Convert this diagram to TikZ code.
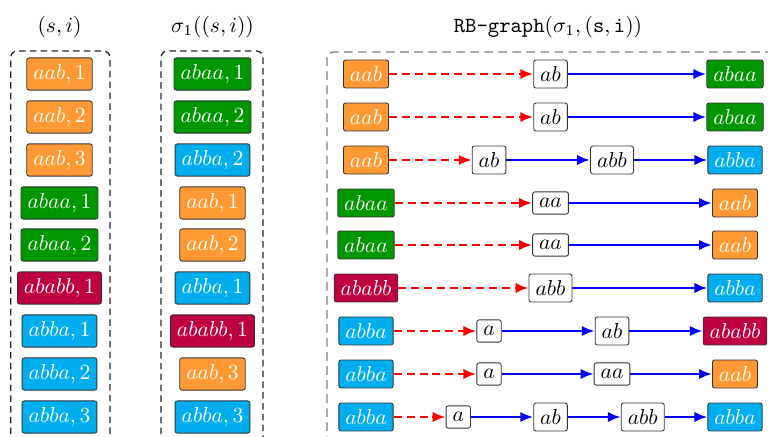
\documentclass[tikz,border=0pt]{standalone}
\usepackage{tikz}
\usetikzlibrary{arrows.meta}

\definecolor{aabcolor}{RGB}{255,153,51}
\definecolor{abaacolor}{RGB}{0,150,0}
\definecolor{abbacolor}{RGB}{0,174,239}
\definecolor{ababbcolor}{RGB}{190,0,64}

\begin{document}
\begin{tikzpicture}[x=0.463pt,y=-0.463pt,>={Latex[length=6pt,width=4.8pt]},
  box/.style={draw=black!80,rounded corners=1pt,inner sep=3pt},
  aab node/.style={box,fill=aabcolor,text=white},
  abaa node/.style={box,fill=abaacolor,text=white},
  abba node/.style={box,fill=abbacolor,text=white},
  ababb node/.style={box,fill=ababbcolor,text=white},
  mid node/.style={box,fill=white},
  red edge/.style={->,red,line width=1.3pt,dash pattern=on 3.7pt off 2.3pt},
  blue edge/.style={->,blue,line width=1.3pt},
  frame/.style={dash pattern=on 3pt off 2pt,rounded corners=3pt,line width=0.6pt}]
  \useasboundingbox (0,0) rectangle (768,437);
  \clip (0,0) rectangle (768,437);

  % titles
  \node (h1) at (59.5,27) {$(s,i)$};
  \node (h2) at (212.5,27) {$\sigma_1((s,i))$};
  \node (h3) at (548,27) {\texttt{RB-graph}$(\sigma_1,(\mathtt{s},\mathtt{i}))$};

  % frames
  \draw[frame,black!85] (10.7,445) -- (10.7,51) -- (110,51) -- (110,445);
  \draw[frame,black!85] (161,445) -- (161,51) -- (263,51) -- (263,445);
  \draw[frame,gray,dash pattern=on 4pt off 2.5pt] (327,445) -- (327,52) -- (800,52) -- (800,445);

  % (s,i)
  \node[aab node] (s1) at (59.5,74) {$aab,1$};
  \node[aab node] (s2) at (59.5,117) {$aab,2$};
  \node[aab node] (s3) at (59.5,160) {$aab,3$};
  \node[abaa node] (s4) at (59.5,203) {$abaa,1$};
  \node[abaa node] (s5) at (59.5,245) {$abaa,2$};
  \node[ababb node] (s6) at (59.5,288) {$ababb,1$};
  \node[abba node] (s7) at (59.5,331) {$abba,1$};
  \node[abba node] (s8) at (59.5,374) {$abba,2$};
  \node[abba node] (s9) at (59.5,417) {$abba,3$};

  % sigma_1((s,i))
  \node[abaa node] (t1) at (212.5,74) {$abaa,1$};
  \node[abaa node] (t2) at (212.5,117) {$abaa,2$};
  \node[abba node] (t3) at (212.5,160) {$abba,2$};
  \node[aab node] (t4) at (212.5,203) {$aab,1$};
  \node[aab node] (t5) at (212.5,245) {$aab,2$};
  \node[abba node] (t6) at (212.5,288) {$abba,1$};
  \node[ababb node] (t7) at (212.5,331) {$ababb,1$};
  \node[aab node] (t8) at (212.5,374) {$aab,3$};
  \node[abba node] (t9) at (212.5,417) {$abba,3$};

  % RB-graph
  \node[aab node] (l1) at (366,74) {$aab$};
  \node[mid node] (m1) at (550.5,74) {$ab$};
  \node[abaa node] (r1) at (735,74) {$abaa$};
  \path (l1) edge[red edge] (m1) (m1) edge[blue edge] (r1);

  \node[aab node] (l2) at (366,117) {$aab$};
  \node[mid node] (m2) at (550.5,117) {$ab$};
  \node[abaa node] (r2) at (735,117) {$abaa$};
  \path (l2) edge[red edge] (m2) (m2) edge[blue edge] (r2);

  \node[aab node] (l3) at (366,160) {$aab$};
  \node[mid node] (m3a) at (489,160) {$ab$};
  \node[mid node] (m3b) at (612,160) {$abb$};
  \node[abba node] (r3) at (735,160) {$abba$};
  \path (l3) edge[red edge] (m3a) (m3a) edge[blue edge] (m3b)
    (m3b) edge[blue edge] (r3);

  \node[abaa node] (l4) at (366,203) {$abaa$};
  \node[mid node] (m4) at (550.5,203) {$aa$};
  \node[aab node] (r4) at (735,203) {$aab$};
  \path (l4) edge[red edge] (m4) (m4) edge[blue edge] (r4);

  \node[abaa node] (l5) at (366,245) {$abaa$};
  \node[mid node] (m5) at (550.5,245) {$aa$};
  \node[aab node] (r5) at (735,245) {$aab$};
  \path (l5) edge[red edge] (m5) (m5) edge[blue edge] (r5);

  \node[ababb node] (l6) at (366,288) {$ababb$};
  \node[mid node] (m6) at (550.5,288) {$abb$};
  \node[abba node] (r6) at (735,288) {$abba$};
  \path (l6) edge[red edge] (m6) (m6) edge[blue edge] (r6);

  \node[abba node] (l7) at (366,331) {$abba$};
  \node[mid node] (m7a) at (489,331) {$a$};
  \node[mid node] (m7b) at (612,331) {$ab$};
  \node[ababb node] (r7) at (735,331) {$ababb$};
  \path (l7) edge[red edge] (m7a) (m7a) edge[blue edge] (m7b)
    (m7b) edge[blue edge] (r7);

  \node[abba node] (l8) at (366,374) {$abba$};
  \node[mid node] (m8a) at (489,374) {$a$};
  \node[mid node] (m8b) at (612,374) {$aa$};
  \node[aab node] (r8) at (735,374) {$aab$};
  \path (l8) edge[red edge] (m8a) (m8a) edge[blue edge] (m8b)
    (m8b) edge[blue edge] (r8);

  \node[abba node] (l9) at (366,417) {$abba$};
  \node[mid node] (m9a) at (458.25,417) {$a$};
  \node[mid node] (m9b) at (550.5,417) {$ab$};
  \node[mid node] (m9c) at (642.75,417) {$abb$};
  \node[abba node] (r9) at (735,417) {$abba$};
  \path (l9) edge[red edge] (m9a) (m9a) edge[blue edge] (m9b)
    (m9b) edge[blue edge] (m9c) (m9c) edge[blue edge] (r9);
\end{tikzpicture}
\end{document}
